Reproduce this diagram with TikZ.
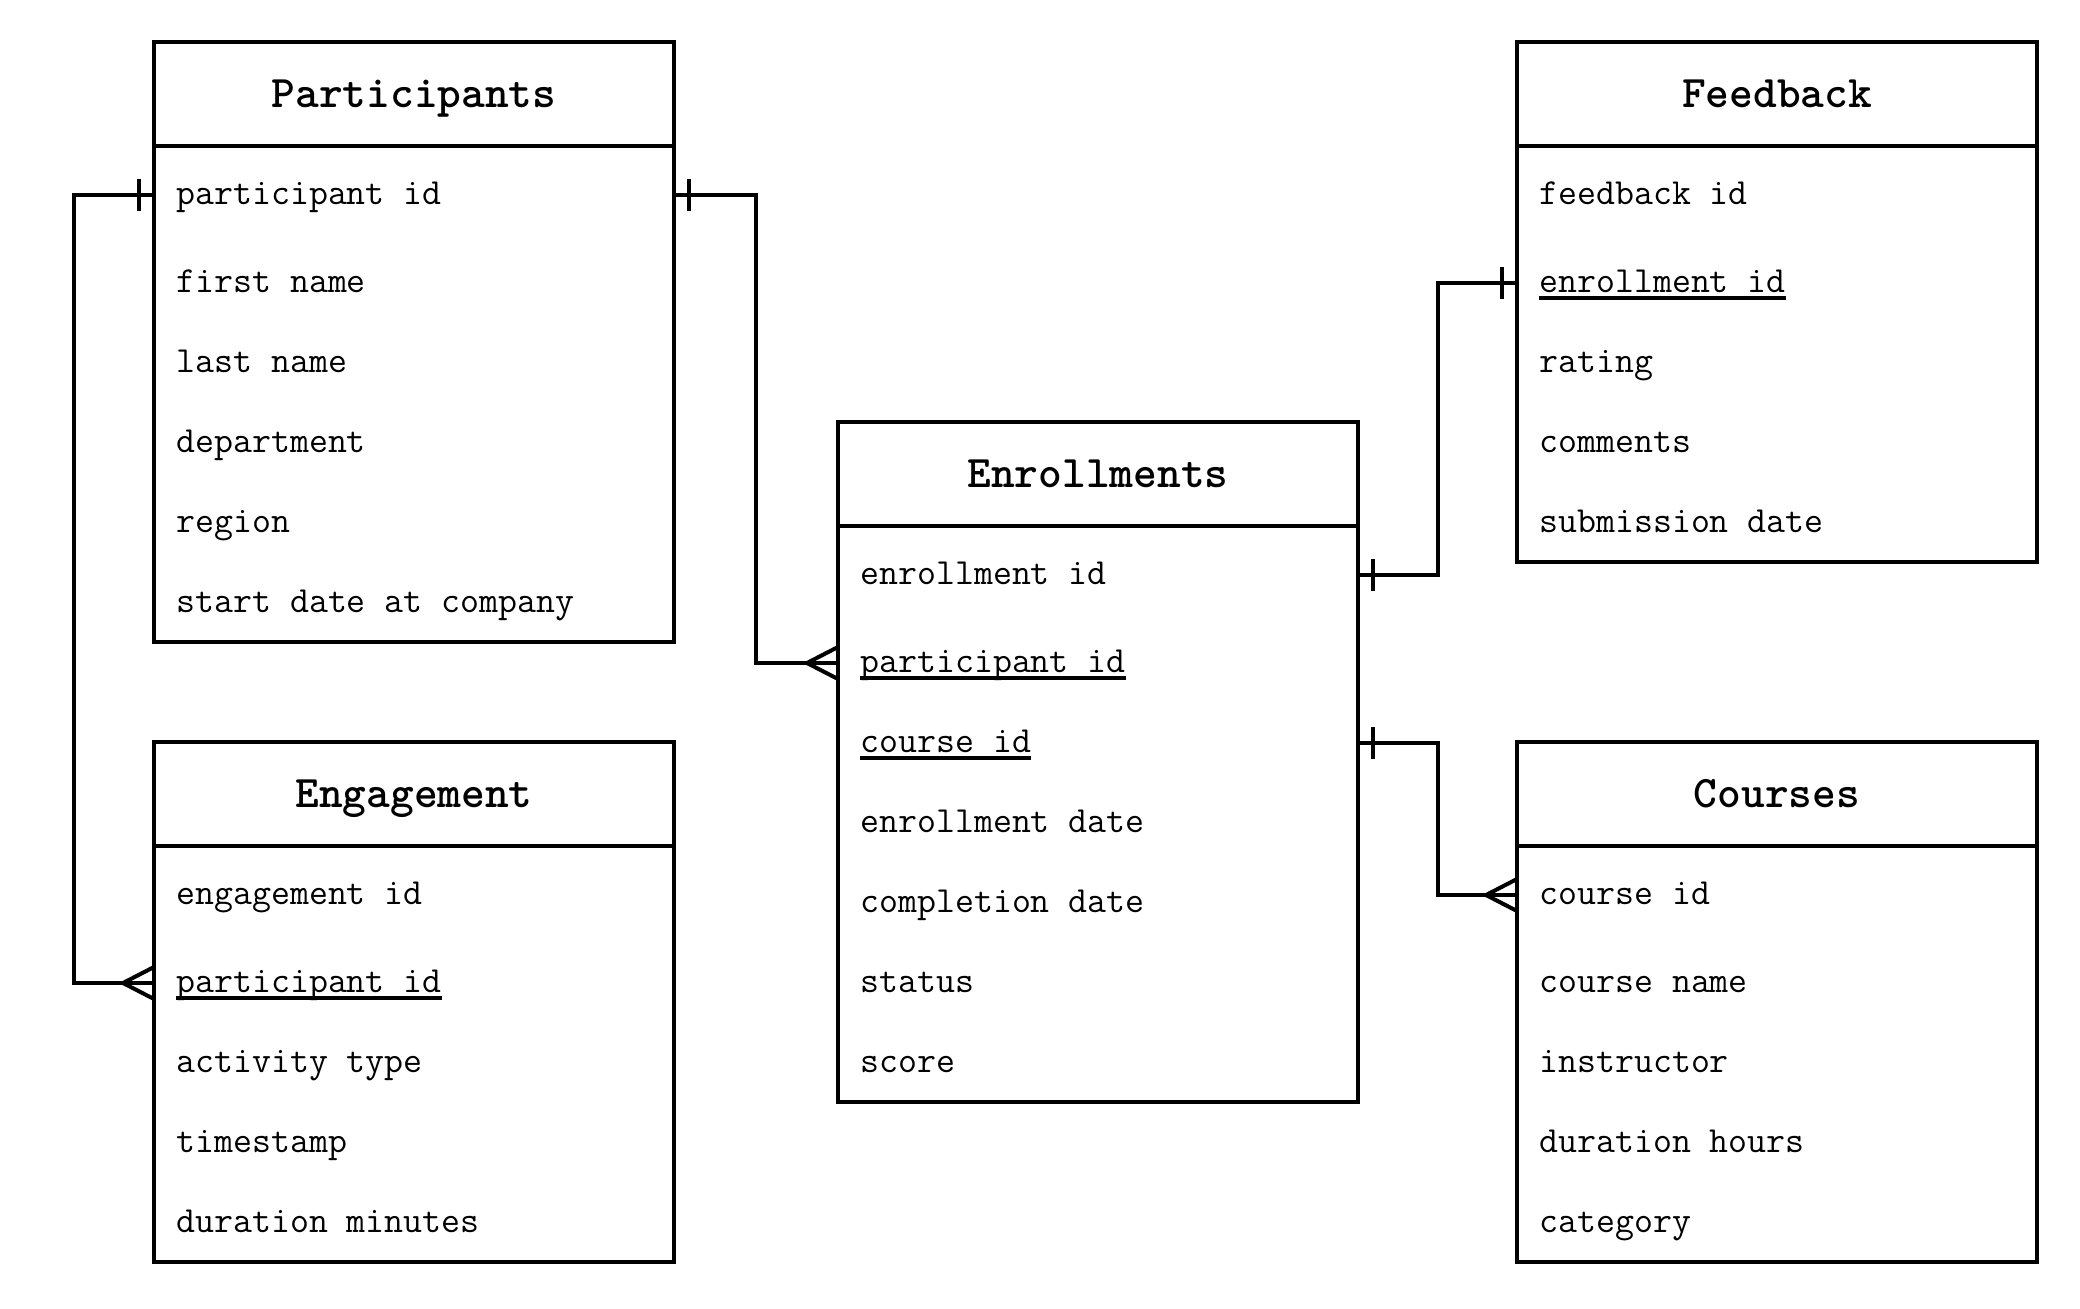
\documentclass[tikz,border=0pt]{standalone}
\usepackage{fontspec}
\usetikzlibrary{calc}
\tikzset{
  x=0.5pt, y=-0.5pt,
  box/.style={draw, line width=2pt, minimum width=260pt, anchor=north west, inner sep=0pt, outer sep=0pt},
  titletext/.style={anchor=base, inner sep=0pt, font=\fontsize{22.6pt}{26pt}\ttfamily\bfseries},
  rowtext/.style={anchor=base west, inner sep=0pt, font=\fontsize{18.4pt}{21pt}\ttfamily},
  rel/.style={line width=2pt},
  uline/.style={line width=2pt}
}
% #1 name, #2 left x, #3 top y, #4 number of rows, #5 title, #6 rows (text/underline)
\newcommand\ertable[6]{%
  \node[box, minimum height=60pt+40pt*#4] (#1) at (#2,#3) {};
  \draw[line width=2pt] ([yshift=-52pt]#1.north west) -- ([yshift=-52pt]#1.north east);
  \node[titletext] (#1-t) at ([yshift=-32.5pt]#1.north) {#5};
  \foreach \txt/\ul [count=\i] in {#6} {
    \pgfmathsetmacro\ry{\i==1 ? 153 : 241+80*(\i-2)}
    \coordinate (#1-r\i) at (#2, #3+\ry);
    \node[rowtext] (#1-l\i) at (#2+22, #3+\ry+9) {\txt};
    \ifnum\ul=1
      \draw[uline] ([yshift=-3pt]#1-l\i.base west) -- ([yshift=-3pt]#1-l\i.base east);
    \fi
  }
}
\begin{document}
\begin{tikzpicture}
\useasboundingbox (0,0) rectangle (2080,1308);

\ertable{P}{154}{42}{6}{Participants}{participant id/0, first name/0, last name/0, department/0, region/0, start date at company/0}
\ertable{F}{1517}{42}{5}{Feedback}{feedback id/0, enrollment id/1, rating/0, comments/0, submission date/0}
\ertable{E}{838}{422}{7}{Enrollments}{enrollment id/0, participant id/1, course id/1, enrollment date/0, completion date/0, status/0, score/0}
\ertable{G}{154}{742}{5}{Engagement}{engagement id/0, participant id/1, activity type/0, timestamp/0, duration minutes/0}
\ertable{C}{1517}{742}{5}{Courses}{course id/0, course name/0, instructor/0, duration hours/0, category/0}

\coordinate (m1) at ($(P.east)!0.5!(E.west)$);
\coordinate (m3) at ($(E.east)!0.5!(F.west)$);
\coordinate (m2) at ([xshift=-40pt]P.west);

% Participants -> Enrollments (one to many)
\draw[rel] (P-r1 -| P.east) -| (m1 |- E-r2) -- (E-r2);
\draw[rel] ([xshift=7.5pt,yshift=8pt]P-r1 -| P.east) -- ([xshift=7.5pt,yshift=-8pt]P-r1 -| P.east);
\draw[rel] ([yshift=8pt]E-r2) -- ([xshift=-15.5pt]E-r2) -- ([yshift=-8pt]E-r2);

% Participants -> Engagement (one to many)
\draw[rel] (P-r1) -- (m2 |- P-r1) |- (G-r2);
\draw[rel] ([xshift=-7.5pt,yshift=8pt]P-r1) -- ([xshift=-7.5pt,yshift=-8pt]P-r1);
\draw[rel] ([yshift=8pt]G-r2) -- ([xshift=-15.5pt]G-r2) -- ([yshift=-8pt]G-r2);

% Enrollments -> Feedback (one to one)
\draw[rel] (E-r1 -| E.east) -| (m3 |- F-r2) -- (F-r2);
\draw[rel] ([xshift=7.5pt,yshift=8pt]E-r1 -| E.east) -- ([xshift=7.5pt,yshift=-8pt]E-r1 -| E.east);
\draw[rel] ([xshift=-7.5pt,yshift=8pt]F-r2) -- ([xshift=-7.5pt,yshift=-8pt]F-r2);

% Enrollments -> Courses (one to many)
\draw[rel] (E-r3 -| E.east) -| (m3 |- C-r1) -- (C-r1);
\draw[rel] ([xshift=7.5pt,yshift=8pt]E-r3 -| E.east) -- ([xshift=7.5pt,yshift=-8pt]E-r3 -| E.east);
\draw[rel] ([yshift=8pt]C-r1) -- ([xshift=-15.5pt]C-r1) -- ([yshift=-8pt]C-r1);
\end{tikzpicture}
\end{document}
